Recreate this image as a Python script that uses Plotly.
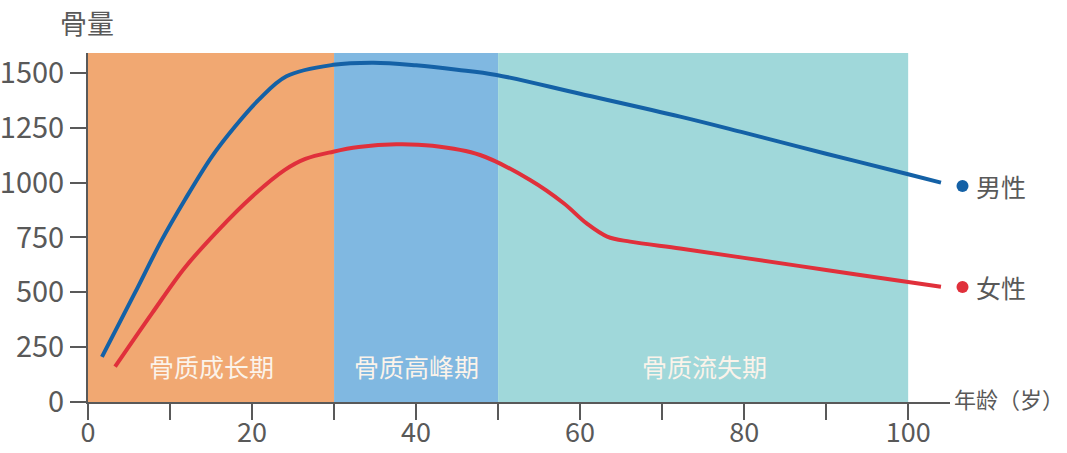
import plotly.graph_objects as go

# Data
male_age = [1.7, 5.7, 9, 11.8, 15.1, 17.9, 20.8, 24.2, 29.9, 34.8, 40, 45, 49.8, 60, 72.2, 80, 90, 100, 104]
male_bone = [206, 496, 739, 921, 1119, 1255, 1377, 1485, 1537, 1547, 1535, 1515, 1491, 1405, 1301, 1228, 1132, 1038, 1000]
female_age = [3.3, 7.8, 11.8, 15.9, 20, 24, 26.5, 29.9, 33, 37.6, 42, 47.8, 53.9, 58, 60.8, 63.3, 66.1, 72.2, 80, 90, 100, 104]
female_bone = [161, 404, 612, 784, 936, 1058, 1108, 1141, 1162, 1175, 1168, 1126, 1012, 906, 814, 754, 731, 700, 657, 602, 547, 525]
phase_names = ["骨质成长期", "骨质高峰期", "骨质流失期"]
phase_start = [0, 30, 50]
phase_end = [30, 50, 100]
phase_colors = ["#f1a872", "#80b8e1", "#a0d8da"]
phase_label_x = [15, 40, 75.2]
legend_names = ["男性", "女性"]
series_colors = ["#1461a6", "#e0303b"]
x_tickvals = [0, 10, 20, 30, 40, 50, 60, 70, 80, 90, 100]
x_ticktext = ["0", "", "20", "", "40", "", "60", "", "80", "", "100"]
y_tickvals = [0, 250, 500, 750, 1000, 1250, 1500]

FONT = "Noto Sans CJK SC"
GREY = "#595959"
YTOP = 1591

# layout geometry (pixels)
W, H = 1067, 453
ML, MR, MT, MB = 88, 117, 53, 51
PW, PH = W - ML - MR, H - MT - MB


def px_x(px):
    return (px - ML) / PW


def px_y(py):
    return (H - MB - py) / PH


fig = go.Figure()

for s, e, c in zip(phase_start, phase_end, phase_colors):
    fig.add_shape(type="rect", x0=s, x1=e, y0=0, y1=YTOP, xref="x", yref="y",
                  fillcolor=c, line_width=0, layer="below")

for name, lx in zip(phase_names, phase_label_x):
    fig.add_annotation(x=lx, y=164, text=name, showarrow=False, xref="x", yref="y",
                       font=dict(family=FONT, size=25, color="#fbf3ea"))

fig.add_trace(go.Scatter(x=male_age, y=male_bone, mode="lines",
                         line=dict(color=series_colors[0], width=4, shape="spline", smoothing=1.0),
                         showlegend=False, hoverinfo="skip"))
fig.add_trace(go.Scatter(x=female_age, y=female_bone, mode="lines",
                         line=dict(color=series_colors[1], width=4, shape="spline", smoothing=1.0),
                         showlegend=False, hoverinfo="skip"))

# legend markers (outside plot, right side)
legend_py = [186, 287]
for name, col, py in zip(legend_names, series_colors, legend_py):
    fig.add_shape(type="circle", xref="paper", yref="paper",
                  x0=px_x(956.5), x1=px_x(968.5), y0=px_y(py + 6), y1=px_y(py - 6),
                  fillcolor=col, line_width=0)
    fig.add_annotation(xref="paper", yref="paper", x=px_x(974), y=px_y(py),
                       xanchor="left", yanchor="middle", text=name, showarrow=False,
                       font=dict(family=FONT, size=25, color=GREY))

fig.add_annotation(xref="paper", yref="paper", x=px_x(58), y=px_y(1), xanchor="left",
                   yanchor="top", text="骨量", showarrow=False,
                   font=dict(family=FONT, size=27, color=GREY))
fig.add_annotation(xref="paper", yref="paper", x=px_x(1066), y=px_y(398), xanchor="right",
                   yanchor="middle", text="年龄（岁）", showarrow=False,
                   font=dict(family=FONT, size=22, color=GREY))

fig.update_xaxes(range=[0, 105.1], tickvals=x_tickvals, ticktext=x_ticktext,
                 ticks="outside", ticklen=16, tickwidth=2, tickcolor=GREY,
                 showline=True, linecolor=GREY, linewidth=2, showgrid=False, zeroline=False,
                 automargin=False, ticklabelstandoff=-10,
                 tickfont=dict(family=FONT, size=27, color=GREY))
fig.update_yaxes(range=[0, YTOP], tickvals=y_tickvals,
                 ticks="outside", ticklen=16, tickwidth=2, tickcolor=GREY,
                 showline=True, linecolor=GREY, linewidth=2, showgrid=False, zeroline=False,
                 automargin=False,
                 tickfont=dict(family=FONT, size=29, color=GREY))

fig.update_layout(width=W, height=H, margin=dict(l=ML, r=MR, t=MT, b=MB, autoexpand=False),
                  plot_bgcolor="white", paper_bgcolor="white", showlegend=False)

fig.write_html("out.html")
